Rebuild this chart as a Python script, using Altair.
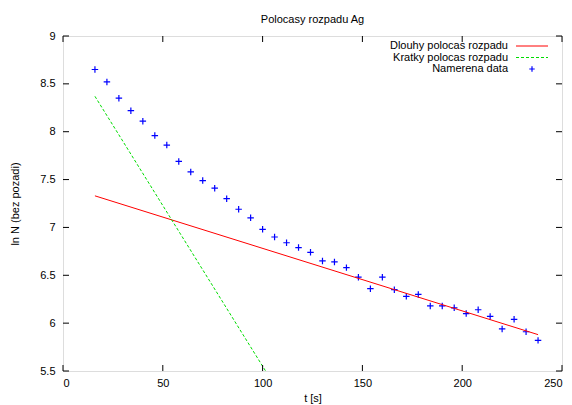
import altair as alt
import pandas as pd

# ---- data ----
t_vals = [16, 22, 28, 34, 40, 46, 52, 58, 64, 70, 76, 82, 88, 94, 100, 106, 112, 118, 124,
          130, 136, 142, 148, 154, 160, 166, 172, 178, 184, 190, 196, 202, 208, 214, 220,
          226, 232, 238]
lnN_vals = [8.65, 8.52, 8.35, 8.22, 8.11, 7.96, 7.86, 7.69, 7.58, 7.49, 7.41, 7.30, 7.19,
            7.10, 6.98, 6.90, 6.84, 6.79, 6.74, 6.65, 6.64, 6.58, 6.48, 6.36, 6.48, 6.35,
            6.28, 6.30, 6.18, 6.18, 6.16, 6.10, 6.14, 6.07, 5.94, 6.04, 5.91, 5.82]

long_t = [16, 238]
long_y = [7.33, 5.88]
short_t = [16, 101.5]
short_y = [8.37, 5.5]

x_ticks = [0, 50, 100, 150, 200, 250]
y_ticks = [5.5, 6, 6.5, 7, 7.5, 8, 8.5, 9]

legend_labels = ["Dlouhy polocas rozpadu", "Kratky polocas rozpadu", "Namerena data"]

W, H = 499, 335
FONT = "Liberation Sans"
FS = 11

pts = pd.DataFrame({"t": t_vals, "lnN": lnN_vals})
long_df = pd.DataFrame({"t": long_t, "lnN": long_y})
short_df = pd.DataFrame({"t": short_t, "lnN": short_y})
xt = pd.DataFrame({"t": x_ticks})
yt = pd.DataFrame({"lnN": y_ticks})

xs = alt.Scale(domain=[0, 250], nice=False, zero=False)
ys = alt.Scale(domain=[5.5, 9], nice=False, zero=False)

x_axis = alt.Axis(values=x_ticks, tickSize=0, grid=False, domain=False,
                  labelPadding=6, title="t [s]", titlePadding=4,
                  labelFont=FONT, labelFontSize=FS, titleFont=FONT, titleFontSize=FS,
                  titleFontWeight="normal", labelColor="black", titleColor="black")
y_axis = alt.Axis(values=y_ticks, tickSize=0, grid=False, domain=False,
                  labelPadding=8, title="ln N (bez pozadi)", titlePadding=19,
                  labelFont=FONT, labelFontSize=FS, titleFont=FONT, titleFontSize=FS,
                  titleFontWeight="normal", labelColor="black", titleColor="black",
                  format=".1~f")

base_x = alt.X("t:Q", scale=xs, axis=x_axis)
base_y = alt.Y("lnN:Q", scale=ys, axis=y_axis)

points = alt.Chart(pts).mark_point(
    shape="M-1,0H1M0,-1V1", filled=False, color="#0000ff", strokeWidth=1.2, size=42, opacity=1
).encode(x=base_x, y=base_y)

red = alt.Chart(long_df).mark_line(color="#ff0000", strokeWidth=1, clip=True).encode(
    x=alt.X("t:Q", scale=xs), y=alt.Y("lnN:Q", scale=ys))
green = alt.Chart(short_df).mark_line(color="#00dd00", strokeWidth=1, strokeDash=[3, 2], clip=True).encode(
    x=alt.X("t:Q", scale=xs), y=alt.Y("lnN:Q", scale=ys))

TL = 6
tick_style = dict(color="black", strokeWidth=1)
xb = alt.Chart(xt).mark_rule(**tick_style).encode(
    x=alt.X("t:Q", scale=xs), y=alt.value(H), y2=alt.value(H - TL))
xtp = alt.Chart(xt).mark_rule(**tick_style).encode(
    x=alt.X("t:Q", scale=xs), y=alt.value(0), y2=alt.value(TL))
yl = alt.Chart(yt).mark_rule(**tick_style).encode(
    y=alt.Y("lnN:Q", scale=ys), x=alt.value(0), x2=alt.value(TL))
yr = alt.Chart(yt).mark_rule(**tick_style).encode(
    y=alt.Y("lnN:Q", scale=ys), x=alt.value(W - TL), x2=alt.value(W))

# ---- legend (gnuplot style: text left, sample right) ----
row_y = [10, 21.5, 33]
leg_text = []
for i, lab in enumerate(legend_labels):
    leg_text.append(
        alt.Chart(pd.DataFrame({"label": [lab]})).mark_text(
            align="right", baseline="middle", font=FONT, fontSize=FS, color="black"
        ).encode(text="label:N", x=alt.value(445), y=alt.value(row_y[i]))
    )
leg_red = alt.Chart(pd.DataFrame({"a": [0]})).mark_rule(color="#ff0000", strokeWidth=1).encode(
    x=alt.value(453), x2=alt.value(485), y=alt.value(row_y[0]))
leg_green = alt.Chart(pd.DataFrame({"a": [0]})).mark_rule(
    color="#00dd00", strokeWidth=1, strokeDash=[3, 2]).encode(
    x=alt.value(453), x2=alt.value(485), y=alt.value(row_y[1]))
leg_pt = alt.Chart(pd.DataFrame({"a": [0]})).mark_point(
    shape="M-1,0H1M0,-1V1", filled=False, color="#0000ff", strokeWidth=1.2, size=30, opacity=1
).encode(x=alt.value(469), y=alt.value(row_y[2]))

chart = alt.layer(
    points, red, green, xb, xtp, yl, yr, *leg_text, leg_red, leg_green, leg_pt
).properties(
    width=W, height=H,
    title=alt.TitleParams("Polocasy rozpadu Ag", font=FONT, fontSize=FS, fontWeight="normal",
                          color="black", offset=5),
    autosize=alt.AutoSizeParams(type="none"),
    padding={"left": 55, "top": 28, "right": 2, "bottom": 34},
).configure_view(stroke="black", strokeWidth=1.5).configure(background="white")

chart.save("out.html", embed_options={"renderer": "svg", "actions": False})
